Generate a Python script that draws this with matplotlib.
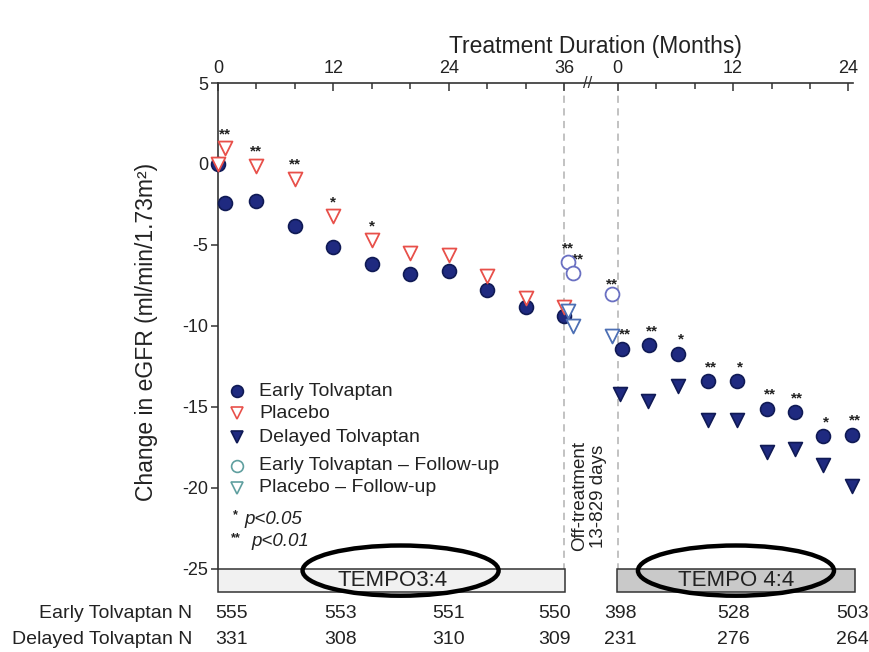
#!/usr/bin/env python3
"""Change in eGFR over TEMPO 3:4 and TEMPO 4:4 (early vs delayed tolvaptan)."""

import matplotlib
matplotlib.use("Agg")
import matplotlib.pyplot as plt
from matplotlib.patches import Rectangle, Ellipse
from matplotlib.transforms import blended_transform_factory

plt.rcParams["font.family"] = ["Liberation Sans", "DejaVu Sans"]
plt.rcParams["axes.unicode_minus"] = False

# ---- data (months; TEMPO 4:4 months are relative to its own baseline) ----
t34_months = [0, 0.75, 4, 8, 12, 16, 20, 24, 28, 32, 36]
early_t34 = [0, -2.4, -2.3, -3.8, -5.1, -6.2, -6.8, -6.6, -7.8, -8.8, -9.4]
placebo_t34 = [0, 1.0, -0.1, -0.9, -3.2, -4.7, -5.5, -5.6, -6.9, -8.3, -8.8]
placebo_sig = ["", "**", "**", "**", "*", "*", "", "", "", "", ""]

fu_months = [36.4, 36.9]
early_fu = [-6.05, -6.7]
placebo_fu = [-9.1, -10.0]
early_fu_sig = ["**", "**"]

t44_base_month = -0.6
early_t44_base = -8.0
placebo_t44_base = -10.6
t44_base_sig = "**"

t44_months = [0.4, 3.3, 6.3, 9.4, 12.4, 15.5, 18.4, 21.4, 24.4]
delayed_t44_months = [0.25, 3.15, 6.3, 9.4, 12.4, 15.5, 18.4, 21.4, 24.4]
early_t44 = [-11.4, -11.2, -11.7, -13.4, -13.4, -15.1, -15.3, -16.8, -16.7]
delayed_t44 = [-14.2, -14.6, -13.7, -15.8, -15.8, -17.8, -17.6, -18.6, -19.9]
early_t44_sig = ["**", "**", "*", "**", "*", "**", "**", "*", "**"]

early_n = [555, 553, 551, 550, 398, 528, 503]
delayed_n = [331, 308, 310, 309, 231, 276, 264]
n_t34_pos = [1.4, 12.8, 24.0, 35.0]
n_t44_pos = [0.3, 12.0, 24.4]

t34_ticks = [0, 12, 24, 36]
t44_ticks = [0, 12, 24]

# ---- layout ----
OFF = 41.6          # x offset of the TEMPO 4:4 segment
NAVY = "#1f2a80"
NAVY_EDGE = "#101a55"
RED = "#e8504a"
FU_CIRC = "#6a70c2"
FU_TRI = "#4d6fb4"
TEAL = "#5f9f9f"
TXT = "#222222"

fig = plt.figure(figsize=(8.7, 6.52), dpi=100)
W, H = 870, 652


def fx(px):
    return px / W


def fy(py):
    return 1 - py / H


ax = fig.add_axes([fx(218), fy(592), fx(853) - fx(218), fy(83) - fy(592)])
ax.set_xlim(0, 66.08)
ax.set_ylim(-26.42, 5)

for s in ("bottom", "right"):
    ax.spines[s].set_visible(False)
for s in ("left", "top"):
    ax.spines[s].set_color("#333333")
    ax.spines[s].set_linewidth(1.2)
ax.spines["left"].set_bounds(-25, 5)

ax.xaxis.set_ticks_position("top")
ax.set_xticks(t34_ticks + [OFF + t for t in t44_ticks])
ax.set_xticklabels([str(t) for t in t34_ticks] + [str(t) for t in t44_ticks])
minor = [m for m in range(0, 37, 4) if m % 12] + [OFF + m for m in range(0, 25, 4) if m % 12]
ax.set_xticks(minor, minor=True)
ax.tick_params(axis="x", which="major", direction="in", length=6, width=1.1,
               color="#333333", labelsize=13, labelcolor=TXT, pad=4)
ax.tick_params(axis="x", which="minor", direction="in", length=4, width=1.1, color="#333333")
ax.set_yticks(range(5, -26, -5))
ax.tick_params(axis="y", direction="out", length=5, width=1.1, color="#333333",
               labelsize=13, labelcolor=TXT, pad=2)

fig.text(fx(595), fy(47), "Treatment Duration (Months)", ha="center", va="center",
         fontsize=16.5, color=TXT)
fig.text(fx(147), fy(332), "Change in eGFR (ml/min/1.73m²)", ha="center", va="center",
         rotation=90, fontsize=16.5, color=TXT)

# axis break mark
ax.text(38.5, 5, "//", ha="center", va="center", fontsize=12, color="#333333",
        clip_on=False, zorder=6)

# dashed separators
for xv in (36, OFF):
    ax.plot([xv, xv], [5, -25], ls=(0, (4, 3)), color="#bdbdbd", lw=1.3, zorder=1,
            clip_on=False)

ax.text(38.6, -20.5, "Off-treatment\n13-829 days", rotation=90, ha="center", va="center",
        fontsize=13.5, linespacing=1.15, color=TXT)

# ---- marks ----
MS = 100
KW = dict(s=MS, clip_on=False)
ax.scatter(t34_months, early_t34, marker="o", facecolor=NAVY, edgecolor=NAVY_EDGE,
           lw=1.2, zorder=3, **KW)
ax.scatter(t34_months, placebo_t34, marker="v", facecolor="white", edgecolor=RED,
           lw=1.3, zorder=4, **KW)
ax.scatter(fu_months, early_fu, marker="o", facecolor="white", edgecolor=FU_CIRC,
           lw=1.3, zorder=4, **KW)
ax.scatter(fu_months, placebo_fu, marker="v", facecolor="white", edgecolor=FU_TRI,
           lw=1.3, zorder=5, **KW)
ax.scatter([OFF + t44_base_month], [early_t44_base], marker="o", facecolor="white",
           edgecolor=FU_CIRC, lw=1.3, zorder=4, **KW)
ax.scatter([OFF + t44_base_month], [placebo_t44_base], marker="v", facecolor="white",
           edgecolor=FU_TRI, lw=1.3, zorder=4, **KW)
ax.scatter([OFF + m for m in t44_months], early_t44, marker="o", facecolor=NAVY,
           edgecolor=NAVY_EDGE, lw=1.2, zorder=3, **KW)
ax.scatter([OFF + m for m in delayed_t44_months], delayed_t44, marker="v",
           facecolor=NAVY, edgecolor=NAVY_EDGE, lw=1.2, zorder=3, **KW)

# significance stars (baseline ~0.6 above the upper mark)
SIG = dict(ha="center", va="baseline", fontsize=11, fontweight="bold", color=TXT,
           clip_on=False)
for m, v, s in zip(t34_months, placebo_t34, placebo_sig):
    if s:
        ax.text(m, v + 0.6, s, **SIG)
ax.text(fu_months[0], early_fu[0] + 0.6, early_fu_sig[0], **SIG)
ax.text(fu_months[1] + 0.55, early_fu[1] + 0.55, early_fu_sig[1], **SIG)
ax.text(OFF + t44_base_month, early_t44_base + 0.3, t44_base_sig, **SIG)
for m, v, s in zip(t44_months, early_t44, early_t44_sig):
    ax.text(OFF + m + 0.3, v + 0.6, s, **SIG)

# ---- legend (drawn by hand) ----
leg_items = [
    ("Early Tolvaptan", "o", NAVY, NAVY_EDGE, 391),
    ("Placebo", "v", "white", RED, 413),
    ("Delayed Tolvaptan", "v", NAVY, NAVY_EDGE, 437),
    ("Early Tolvaptan \u2013 Follow-up", "o", "white", TEAL, 466),
    ("Placebo \u2013 Follow-up", "v", "white", TEAL, 488),
]
for label, mk, fc, ec, py in leg_items:
    fig.add_artist(plt.Line2D([fx(237)], [fy(py)], marker=mk, markersize=8.5,
                              markerfacecolor=fc, markeredgecolor=ec, markeredgewidth=1.2,
                              ls="none", transform=fig.transFigure))
    fig.text(fx(259), fy(py), label, ha="left", va="center", fontsize=14, color=TXT)

fig.text(fx(233), fy(515), "*", ha="left", va="center", fontsize=9, fontweight="bold",
         color=TXT)
fig.text(fx(244), fy(519), "p<0.05", ha="left", va="center", fontsize=13.5, style="italic",
         color=TXT)
fig.text(fx(231), fy(538), "**", ha="left", va="center", fontsize=9, fontweight="bold",
         color=TXT)
fig.text(fx(251), fy(542), "p<0.01", ha="left", va="center", fontsize=13.5, style="italic",
         color=TXT)

# ---- study bars ----
ax.add_patch(Rectangle((0.05, -26.4), 36.05, 1.4, facecolor="#f1f1f1", edgecolor="#333333",
                       lw=1.1, clip_on=False, zorder=2))
ax.add_patch(Rectangle((41.5, -26.4), 24.8, 1.4, facecolor="#c9c9c9", edgecolor="#333333",
                       lw=1.1, clip_on=False, zorder=2))
ax.text(18.2, -25.72, "TEMPO3:4", ha="center", va="center", fontsize=16, color=TXT,
        zorder=3)
ax.text(53.9, -25.72, "TEMPO 4:4", ha="center", va="center", fontsize=16, color=TXT,
        zorder=3)
for cx in (19.0, 53.9):
    ax.add_patch(Ellipse((cx, -25.1), 20.4, 3.1, facecolor="none", edgecolor="black",
                         lw=3.2, clip_on=False, zorder=6))

# ---- number at risk ----
tr = blended_transform_factory(ax.transData, fig.transFigure)
xs = n_t34_pos + [OFF + p for p in n_t44_pos]
for x, a, b in zip(xs, early_n, delayed_n):
    ax.text(x, fy(614), str(a), transform=tr, ha="center", va="center", fontsize=14,
            color=TXT, clip_on=False)
    ax.text(x, fy(640), str(b), transform=tr, ha="center", va="center", fontsize=14,
            color=TXT, clip_on=False)
fig.text(fx(192), fy(614), "Early Tolvaptan N", ha="right", va="center", fontsize=14,
         color=TXT)
fig.text(fx(192), fy(640), "Delayed Tolvaptan N", ha="right", va="center", fontsize=14,
         color=TXT)

fig.savefig("out.png", dpi=100)
